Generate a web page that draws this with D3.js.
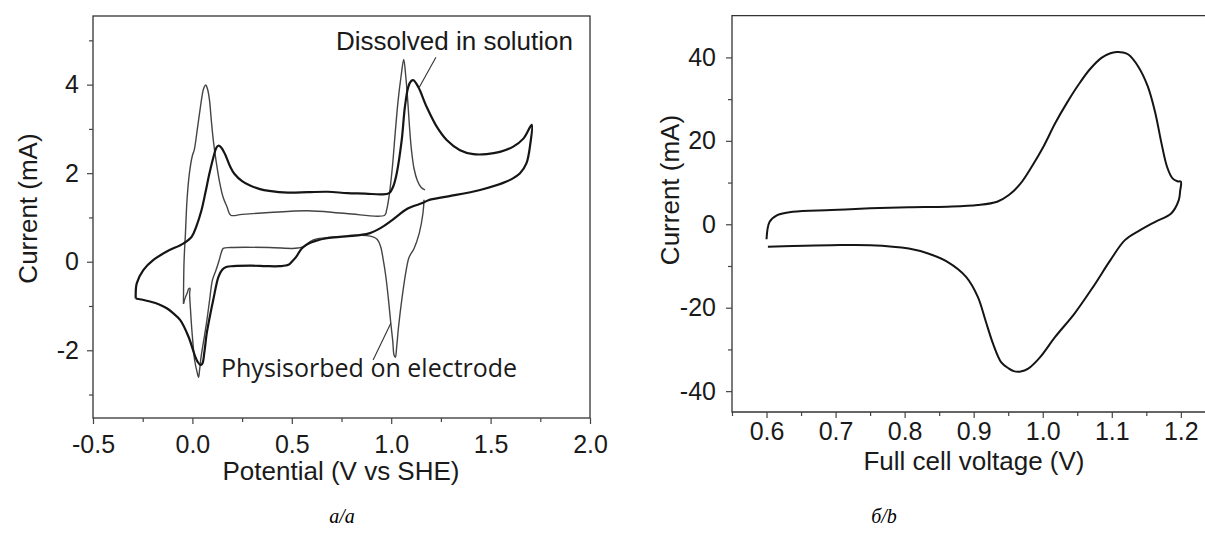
<!DOCTYPE html>
<html>
<head>
<meta charset="utf-8">
<script src="https://cdn.jsdelivr.net/npm/d3@7"></script>
<style>
  body { margin: 0; background: #fff; }
  svg { display: block; }
  .tick text { font-family: "Liberation Sans", Arial, sans-serif; fill: #1a1a1a; }
</style>
</head>
<body>
<svg width="1205" height="539"></svg>
<script>
// panel a: CV, [potential V vs SHE, current mA]
// thick trace - species dissolved in solution
const dissolved = [
  [-0.285,-0.83],[-0.28,-0.49],[-0.247,-0.19],[-0.196,0.04],[-0.129,0.23],[-0.046,0.41],
  [-0.004,0.56],[0.02,0.8],[0.045,1.15],[0.065,1.55],[0.085,1.98],[0.105,2.35],[0.12,2.57],
  [0.13,2.62],[0.145,2.58],[0.165,2.42],[0.19,2.15],[0.212,1.98],[0.25,1.82],[0.29,1.72],
  [0.34,1.64],[0.386,1.6],[0.48,1.56],[0.58,1.57],[0.68,1.58],[0.78,1.55],[0.87,1.54],
  [0.95,1.52],[0.99,1.55],[1.01,1.7],[1.028,2.0],[1.053,2.75],[1.069,3.5],[1.086,3.95],
  [1.1,4.08],[1.112,4.1],[1.137,3.94],[1.178,3.5],[1.229,3.05],[1.279,2.75],[1.346,2.52],
  [1.413,2.43],[1.48,2.43],[1.547,2.48],[1.614,2.6],[1.665,2.78],[1.707,3.09],
  [1.7,2.67],[1.68,2.22],[1.648,2.0],[1.58,1.81],[1.447,1.62],[1.279,1.47],[1.187,1.39],
  [1.16,1.33],[1.083,1.2],[1.005,0.94],[0.95,0.77],[0.889,0.64],[0.773,0.57],[0.677,0.53],
  [0.62,0.47],[0.58,0.4],[0.55,0.3],[0.522,0.11],[0.5,0.0],[0.483,-0.07],[0.44,-0.1],
  [0.37,-0.1],[0.3,-0.09],[0.206,-0.1],[0.17,-0.12],[0.15,-0.18],[0.131,-0.34],
  [0.105,-0.86],[0.085,-1.3],[0.072,-1.62],[0.06,-2.05],[0.05,-2.3],[0.04,-2.33],
  [0.025,-2.25],[0.014,-2.14],[-0.02,-1.69],[-0.061,-1.32],[-0.1,-1.15],[-0.129,-1.05],
  [-0.17,-0.96],[-0.213,-0.9],[-0.25,-0.86],[-0.285,-0.83]
];
// thin trace - physisorbed on electrode, forward sweep
const physFwd = [
  [-0.045,-0.95],[-0.042,0.0],[-0.035,0.64],[-0.027,1.4],[-0.015,2.0],[0.0,2.4],[0.009,2.52],
  [0.025,3.0],[0.038,3.42],[0.057,3.92],[0.067,3.99],[0.076,3.9],[0.086,3.65],[0.095,3.2],
  [0.105,2.75],[0.12,2.25],[0.135,1.84],[0.155,1.45],[0.174,1.24],[0.193,1.05],[0.25,1.07],
  [0.387,1.11],[0.58,1.15],[0.774,1.09],[0.967,1.05],[0.977,1.17],[0.99,1.5],[1.006,2.14],
  [1.02,2.9],[1.035,3.65],[1.05,4.2],[1.063,4.57],[1.073,4.2],[1.083,3.65],[1.092,3.05],
  [1.102,2.52],[1.115,2.1],[1.131,1.84],[1.15,1.68],[1.17,1.62]
];
// thin trace, reverse sweep
const physRev = [
  [1.165,1.4],[1.16,1.1],[1.141,0.64],[1.115,0.3],[1.09,0.1],[1.075,-0.2],[1.055,-0.8],
  [1.037,-1.47],[1.028,-1.9],[1.021,-2.16],[1.014,-2.1],[1.008,-1.8],[0.998,-1.39],
  [0.985,-0.8],[0.972,-0.3],[0.96,0.04],[0.947,0.34],[0.93,0.5],[0.908,0.56],[0.83,0.6],
  [0.715,0.56],[0.63,0.52],[0.59,0.45],[0.561,0.34],[0.53,0.31],[0.503,0.3],[0.386,0.32],
  [0.193,0.32],[0.155,0.3],[0.145,0.2],[0.135,0.04],[0.118,-0.2],[0.101,-0.41],
  [0.087,-0.85],[0.073,-1.32],[0.058,-1.75],[0.044,-2.14],[0.036,-2.45],[0.031,-2.61],
  [0.024,-2.5],[0.011,-2.22],[0.003,-1.85],[-0.004,-1.47],[-0.01,-1.05],[-0.014,-0.71],
  [-0.012,-0.6],[-0.02,-0.62],[-0.024,-0.68],[-0.035,-0.8],[-0.045,-0.95]
];

// panel b: full cell CV, [voltage V, current mA]
const fullCell = [
  [0.6,-3.6],[0.6045,0.6],[0.6156,2.2],[0.638,3.0],[0.694,3.41],[0.75,3.82],[0.806,4.06],
  [0.862,4.21],[0.906,4.6],[0.934,5.4],[0.951,7.0],[0.968,9.8],[0.984,13.8],[1.001,18.6],
  [1.018,24.2],[1.035,29.1],[1.052,33.5],[1.068,37.1],[1.085,39.9],[1.098,41.0],[1.107,41.3],
  [1.116,41.2],[1.124,40.7],[1.138,37.9],[1.152,33.1],[1.163,26.7],[1.172,19.4],[1.18,13.8],
  [1.188,11.0],[1.195,10.3],[1.2,10.2],[1.199,8.0],[1.197,5.8],[1.186,2.6],[1.163,0.6],
  [1.141,-1.4],[1.119,-3.8],[1.098,-8.6],[1.073,-15.0],[1.046,-21.4],[1.018,-27.0],
  [0.996,-31.9],[0.979,-34.6],[0.968,-35.3],[0.958,-35.2],[0.951,-34.6],[0.94,-33.1],
  [0.928,-28.6],[0.917,-23.0],[0.906,-17.4],[0.889,-12.6],[0.862,-9.0],[0.834,-7.0],
  [0.806,-5.8],[0.75,-5.0],[0.694,-5.0],[0.638,-5.2],[0.602,-5.4]
];

// ticks
const aTicksX = [-0.5, 0, 0.5, 1.0, 1.5, 2.0];
const aMinorX = [-0.25, 0.25, 0.75, 1.25, 1.75];
const aTicksY = [-2, 0, 2, 4];
const aMinorY = [-3, -1, 1, 3, 5];
const bTicksX = [0.6, 0.7, 0.8, 0.9, 1.0, 1.1, 1.2];
const bMinorX = [0.55, 0.65, 0.75, 0.85, 0.95, 1.05, 1.15];
const bTicksY = [-40, -20, 0, 20, 40];
const bMinorY = [-30, -10, 10, 30];

// annotation leaders [from, to] in data units
const dissolvedLeader = [[1.225, 4.62], [1.14, 3.93]];
const physLeader = [[0.909, -2.22], [0.998, -1.39]];

const svg = d3.select("svg");
const sans = '"Liberation Sans", Arial, sans-serif';

const xA = d3.scaleLinear().domain([-0.5, 2.0]).range([93, 590]);
const yA = d3.scaleLinear().domain([-3.53, 5.55]).range([418, 16]);
const xB = d3.scaleLinear().domain([0.55, 1.235]).range([732, 1205]);
const yB = d3.scaleLinear().domain([-45, 50]).range([412, 15.7]);

function styleAxis(g, size) {
    g.select(".domain").remove();
    g.selectAll(".tick line").attr("stroke", "#444").attr("stroke-width", 1.2);
    g.selectAll(".tick text").style("font-size", size + "px");
}

function axes(x, y, tx, mx, ty, my, fmtX, padX, padY) {
    let bottom = y.range()[0], left = x.range()[0];
    svg.append("g").attr("transform", `translate(0,${bottom})`)
        .call(d3.axisBottom(x).tickValues(tx).tickFormat(fmtX).tickSize(6).tickPadding(padX))
        .call(g => styleAxis(g, 25));
    svg.append("g").attr("transform", `translate(0,${bottom})`)
        .call(d3.axisBottom(x).tickValues(mx).tickFormat("").tickSize(4))
        .call(g => styleAxis(g, 25));
    svg.append("g").attr("transform", `translate(${left},0)`)
        .call(d3.axisLeft(y).tickValues(ty).tickFormat(d => String(d)).tickSize(6).tickPadding(padY))
        .call(g => styleAxis(g, 25));
    svg.append("g").attr("transform", `translate(${left},0)`)
        .call(d3.axisLeft(y).tickValues(my).tickFormat("").tickSize(4))
        .call(g => styleAxis(g, 25));
}

// ---- panel a
svg.append("rect")
    .attr("x", xA.range()[0]).attr("y", yA.range()[1])
    .attr("width", xA.range()[1] - xA.range()[0]).attr("height", yA.range()[0] - yA.range()[1])
    .attr("fill", "none").attr("stroke", "#333").attr("stroke-width", 1.3);

axes(xA, yA, aTicksX, aMinorX, aTicksY, aMinorY, d => d.toFixed(1), 11, 8);

let lineA = d3.line().x(d => xA(d[0])).y(d => yA(d[1])).curve(d3.curveCatmullRom.alpha(0.5));

svg.append("path").datum(physFwd).attr("d", lineA)
    .attr("fill", "none").attr("stroke", "#444").attr("stroke-width", 1.4);
svg.append("path").datum(physRev).attr("d", lineA)
    .attr("fill", "none").attr("stroke", "#444").attr("stroke-width", 1.4);
svg.append("path").datum(dissolved).attr("d", lineA)
    .attr("fill", "none").attr("stroke", "#151515").attr("stroke-width", 2.2);

// leaders + annotations
[dissolvedLeader, physLeader].forEach(l => {
    svg.append("line")
        .attr("x1", xA(l[0][0])).attr("y1", yA(l[0][1]))
        .attr("x2", xA(l[1][0])).attr("y2", yA(l[1][1]))
        .attr("stroke", "#333").attr("stroke-width", 1.1);
});
svg.append("text").attr("x", 573).attr("y", 50).attr("text-anchor", "end")
    .style("font-family", sans).style("font-size", "26px").attr("fill", "#1a1a1a")
    .text("Dissolved in solution");
svg.append("text").attr("x", 221).attr("y", 377)
    .style("font-family", '"Open Sans", sans-serif').style("font-size", "25px").attr("fill", "#1a1a1a")
    .text("Physisorbed on electrode");

svg.append("text").attr("transform", "translate(37,208.5) rotate(-90)").attr("text-anchor", "middle")
    .style("font-family", sans).style("font-size", "26px").attr("fill", "#1a1a1a")
    .text("Current (mA)");
svg.append("text").attr("x", 341).attr("y", 480).attr("text-anchor", "middle")
    .style("font-family", sans).style("font-size", "26px").attr("fill", "#1a1a1a")
    .text("Potential (V vs SHE)");

// ---- panel b
let bx0 = xB.range()[0], bx1 = xB.range()[1];
svg.append("path")
    .attr("d", `M${bx1},${yB.range()[1]}H${bx0}V${yB.range()[0]}H${bx1}`)
    .attr("fill", "none").attr("stroke", "#333").attr("stroke-width", 1.3);

axes(xB, yB, bTicksX, bMinorX, bTicksY, bMinorY, d => d.toFixed(1), 4, 10);

let lineB = d3.line().x(d => xB(d[0])).y(d => yB(d[1])).curve(d3.curveCatmullRom.alpha(0.5));
svg.append("path").datum(fullCell).attr("d", lineB)
    .attr("fill", "none").attr("stroke", "#151515").attr("stroke-width", 2);

svg.append("text").attr("transform", "translate(679,190) rotate(-90)").attr("text-anchor", "middle")
    .style("font-family", sans).style("font-size", "26px").attr("fill", "#1a1a1a")
    .text("Current (mA)");
svg.append("text").attr("x", 974).attr("y", 470).attr("text-anchor", "middle")
    .style("font-family", sans).style("font-size", "26px").attr("fill", "#1a1a1a")
    .text("Full cell voltage (V)");

// captions
const serif = '"Liberation Serif", "Times New Roman", serif';
svg.append("text").attr("x", 342).attr("y", 523).attr("text-anchor", "middle")
    .style("font-family", serif).style("font-style", "italic").style("font-size", "20px")
    .text("а/a");
svg.append("text").attr("x", 884).attr("y", 523).attr("text-anchor", "middle")
    .style("font-family", serif).style("font-style", "italic").style("font-size", "20px")
    .text("б/b");
</script>
</body>
</html>
